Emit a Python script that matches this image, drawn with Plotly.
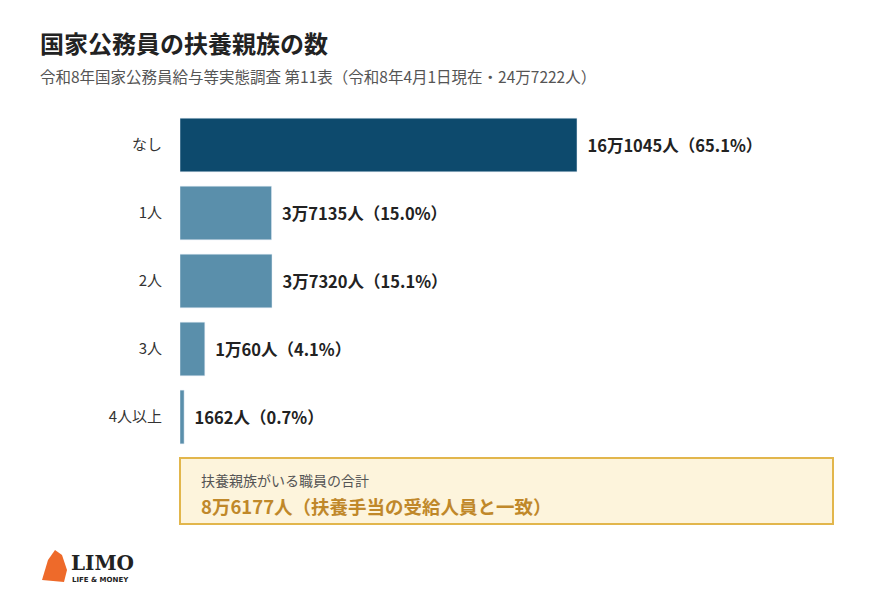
import plotly.graph_objects as go

categories = ["なし", "1人", "2人", "3人", "4人以上"]
values = [161045, 37135, 37320, 10060, 1662]
labels = ["16万1045人（65.1%）", "3万7135人（15.0%）", "3万7320人（15.1%）", "1万60人（4.1%）", "1662人（0.7%）"]
colors = ["#0d4a6d", "#5a8fab", "#5a8fab", "#5a8fab", "#5a8fab"]

W, H = 870, 602
F = "Noto Sans CJK JP"
OFF = 8
def px(x): return (x - OFF) / W
def py(y): return 1 - (y - OFF) / H

fig = go.Figure(go.Bar(
    y=categories, x=values, orientation="h", marker_color=colors, width=0.79,
    text=["\u00a0\u00a0<b>" + t + "</b>" for t in labels], textposition="outside", cliponaxis=False,
    textfont=dict(family=F, size=16.5, color="#222"), hoverinfo="skip"))

xmax = 161045 * (W - (180 - OFF)) / 397
fig.update_layout(
    width=W, height=H, margin=dict(l=0, r=0, t=0, b=0),
    paper_bgcolor="white", plot_bgcolor="white", showlegend=False,
    font=dict(family=F),
    xaxis=dict(domain=[px(180), 1], range=[0, xmax], visible=False),
    yaxis=dict(domain=[py(451), py(111)], autorange="reversed", showgrid=False,
               ticks="", ticklabelstandoff=17, tickfont=dict(family=F, size=15, color="#333")),
)

ann = []
ann.append(dict(x=px(38), y=py(42), text="<b>国家公務員の扶養親族の数</b>", font=dict(size=24, color="#222", family=F)))
ann.append(dict(x=px(38), y=py(76), text="令和8年国家公務員給与等実態調査 第11表（令和8年4月1日現在・24万7222人）", font=dict(size=15.5, color="#555", family=F)))
ann.append(dict(x=px(199), y=py(480), text="扶養親族がいる職員の合計", font=dict(size=14, color="#555", family=F)))
ann.append(dict(x=px(199), y=py(506), text="<b>8万6177人（扶養手当の受給人員と一致）</b>", font=dict(size=18.5, color="#c0882a", family=F)))
ann.append(dict(x=px(69), y=py(563), text="<b>LIMO</b>", font=dict(size=20, color="#222", family="DejaVu Serif")))
ann.append(dict(x=px(70), y=py(580), text="<b>LIFE &amp; MONEY</b>", font=dict(size=7, color="#222", family="DejaVu Sans")))
for a in ann:
    a.update(xref="paper", yref="paper", xanchor="left", yanchor="middle", showarrow=False)
fig.update_layout(annotations=ann)

fig.update_layout(shapes=[
    dict(type="rect", xref="paper", yref="paper", x0=px(180), x1=px(833), y0=py(458), y1=py(524),
         fillcolor="#fdf4dc", line=dict(color="#e2b64c", width=2), layer="below"),
    dict(type="path", xref="paper", yref="paper",
         path=f"M {px(42)} {py(580)} L {px(48)} {py(560)} L {px(55)} {py(550)} L {px(62)} {py(555)} L {px(67)} {py(570)} L {px(64)} {py(582)} Z",
         fillcolor="#ee6a2a", line=dict(width=0)),
])

fig.write_html("out.html")
